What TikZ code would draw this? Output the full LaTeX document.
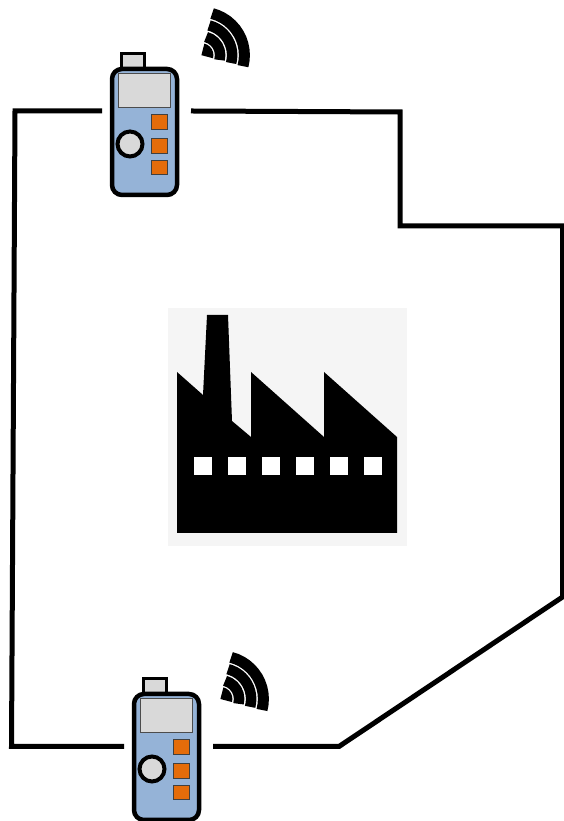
\documentclass[tikz,border=0pt]{standalone}
\usepackage{tikz}
\definecolor{casing}{RGB}{149,179,215}
\definecolor{panel}{RGB}{217,217,217}
\definecolor{keypad}{RGB}{228,108,10}
\definecolor{backing}{RGB}{245,245,245}
\tikzset{
  wall/.style={line width=5pt,black},
  keybox/.style={fill=keypad,draw=black!75,line width=0.8pt},
  sensor/.pic={
    \draw[fill=panel,line width=3pt] (-23,62) rectangle (0,78);
    \draw[fill=casing,line width=4.5pt,rounded corners=10pt] (-32.5,-63) rectangle (32.5,63);
    \draw[fill=panel,draw=black!70,line width=0.8pt] (-26.5,25) rectangle (25.5,59);
    \draw[keybox] (6.5,3) rectangle (22.5,18);
    \draw[keybox] (6.5,-21) rectangle (22.5,-6);
    \draw[keybox] (6.5,-42) rectangle (22.5,-28);
    \draw[fill=panel,line width=4pt] (-14.5,-12) circle (12.5);
  },
  wavesign/.pic={
    \fill (0,0) -- (-14.8:12) arc (-14.8:75.6:12) -- cycle;
    \foreach \r/\w in {18.75/10.5, 30.75/10.5, 43/11}
      \draw[line width=\w pt] (-14.8:\r) arc (-14.8:75.6:\r);
  }
}

\begin{document}
\begin{tikzpicture}[x=1pt,y=1pt]
        \useasboundingbox (0,0) rectangle (563,821);
        \path
        (102,710) coordinate (w1)
        (15,710) coordinate (w2)
        (11.5,74.5) coordinate (w3)
        (124,74.5) coordinate (w4)
        (191,710) coordinate (e1)
        (400,709) coordinate (e2)
        (400,595) coordinate (e3)
        (562.5,595) coordinate (e4)
        (562.5,224) coordinate (e5)
        (339,74.5) coordinate (e6)
        (213,74.5) coordinate (e7)
        ;

        \draw[wall] (w1) -- (w2) -- (w3) -- (w4);
        \draw[wall] (e1) -- (e2) -- (e3) -- (e4) -- (e5) -- (e6) -- (e7);

        % factory
        \fill[backing] (167.5,275) rectangle (407,513);
        \fill (177,288) -- (177,449) -- (203,426) -- (207,506) -- (228,506) -- (232,400)
          -- (251,384) -- (251,449) -- (324,384) -- (324,449) -- (397,384) -- (397,288) -- cycle;
        \foreach \i in {0,...,5}
          \fill[white] (194.3+34*\i,346) rectangle +(18,18);

        \path (144.5,689) pic {sensor};
        \path (166.5,64) pic {sensor};
        \path (201.4,765.8) pic {wavesign};
        \path (220.4,122) pic {wavesign};
\end{tikzpicture}
\end{document}
